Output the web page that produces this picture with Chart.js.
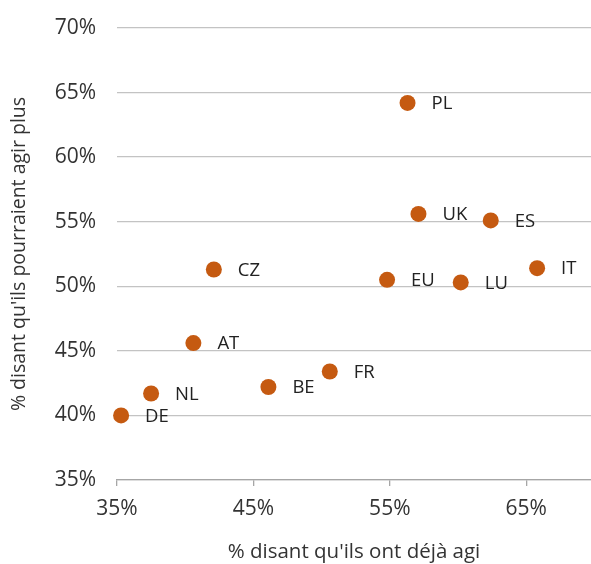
<!DOCTYPE html>
<html>
<head>
<meta charset="utf-8">
<script src="https://cdn.jsdelivr.net/npm/chart.js@4.4.1/dist/chart.umd.min.js"></script>
<style>
  html, body { margin: 0; padding: 0; background: #ffffff; }
  #wrap { width: 591px; height: 564px; position: relative; }
</style>
</head>
<body>
<div id="wrap"><canvas id="chart" width="591" height="564"></canvas></div>
<script>
// Pays / agrégat
const countries = ['PL', 'UK', 'ES', 'IT', 'EU', 'LU', 'CZ', 'AT', 'NL', 'DE', 'BE', 'FR'];
// % disant qu'ils ont déjà agi
const alreadyActed = [56.3, 57.1, 62.4, 65.8, 54.8, 60.2, 42.1, 40.6, 37.5, 35.3, 46.1, 50.6];
// % disant qu'ils pourraient agir plus
const couldDoMore = [64.2, 55.6, 55.1, 51.4, 50.5, 50.3, 51.3, 45.6, 41.7, 40.0, 42.2, 43.4];
// Graduations
const xTicks = [35, 45, 55, 65];
const yTicks = [35, 40, 45, 50, 55, 60, 65, 70];

const FONT = '"Open Sans", "DejaVu Sans", sans-serif';
const DOT = '#C55A11';

const points = countries.map((c, i) => ({ x: alreadyActed[i], y: couldDoMore[i], label: c }));

// Étiquettes des pays à droite de chaque point
const pointLabels = {
  id: 'pointLabels',
  afterDatasetsDraw(chart) {
    const ctx = chart.ctx;
    const meta = chart.getDatasetMeta(0);
    ctx.save();
    ctx.font = '18.5px ' + FONT;
    ctx.fillStyle = '#222222';
    ctx.textAlign = 'left';
    ctx.textBaseline = 'middle';
    meta.data.forEach((el, i) => {
      ctx.fillText(points[i].label, el.x + 24, el.y + 1);
    });
    ctx.restore();
  }
};

new Chart(document.getElementById('chart'), {
  type: 'scatter',
  data: {
    datasets: [{
      data: points,
      backgroundColor: DOT,
      borderColor: DOT,
      pointRadius: 8,
      pointHoverRadius: 8,
      borderWidth: 0,
      clip: 10
    }]
  },
  options: {
    responsive: false,
    animation: false,
    events: [],
    layout: { autoPadding: false, padding: { top: 28, right: 0, bottom: 0, left: 0 } },
    plugins: { legend: { display: false }, tooltip: { enabled: false } },
    scales: {
      x: {
        type: 'linear',
        min: 35,
        max: 69.75,
        afterBuildTicks(scale) { scale.ticks = xTicks.map(v => ({ value: v })); },
        afterFit(scale) { scale.height = 84; scale.paddingLeft = 0; scale.paddingRight = 0; },
        border: { display: true, color: '#a6a6a6', width: 1.3 },
        grid: { drawOnChartArea: false, drawTicks: true, tickLength: 6, color: '#a6a6a6', lineWidth: 1.3 },
        ticks: {
          padding: 10,
          color: '#333333',
          font: { family: FONT, size: 21 },
          maxRotation: 0,
          callback: v => v + '%'
        },
        title: {
          display: true,
          text: "% disant qu'ils ont déjà agi",
          color: '#333333',
          font: { family: FONT, size: 20.5 },
          padding: { top: 16, bottom: 0 }
        }
      },
      y: {
        type: 'linear',
        min: 35,
        max: 70,
        afterBuildTicks(scale) { scale.ticks = yTicks.map(v => ({ value: v })); },
        afterFit(scale) { scale.width = 117; scale.paddingTop = 0; scale.paddingBottom = 0; },
        border: { display: false },
        grid: { drawTicks: false, color: '#c3c3c3', lineWidth: 1.3 },
        ticks: {
          padding: 21,
          color: '#333333',
          font: { family: FONT, size: 21 },
          callback: v => v + '%'
        },
        title: {
          display: true,
          text: "% disant qu'ils pourraient agir plus",
          color: '#333333',
          font: { family: FONT, size: 19.5 },
          padding: { top: 8, bottom: 0 }
        }
      }
    }
  },
  plugins: [pointLabels]
});
</script>
</body>
</html>
